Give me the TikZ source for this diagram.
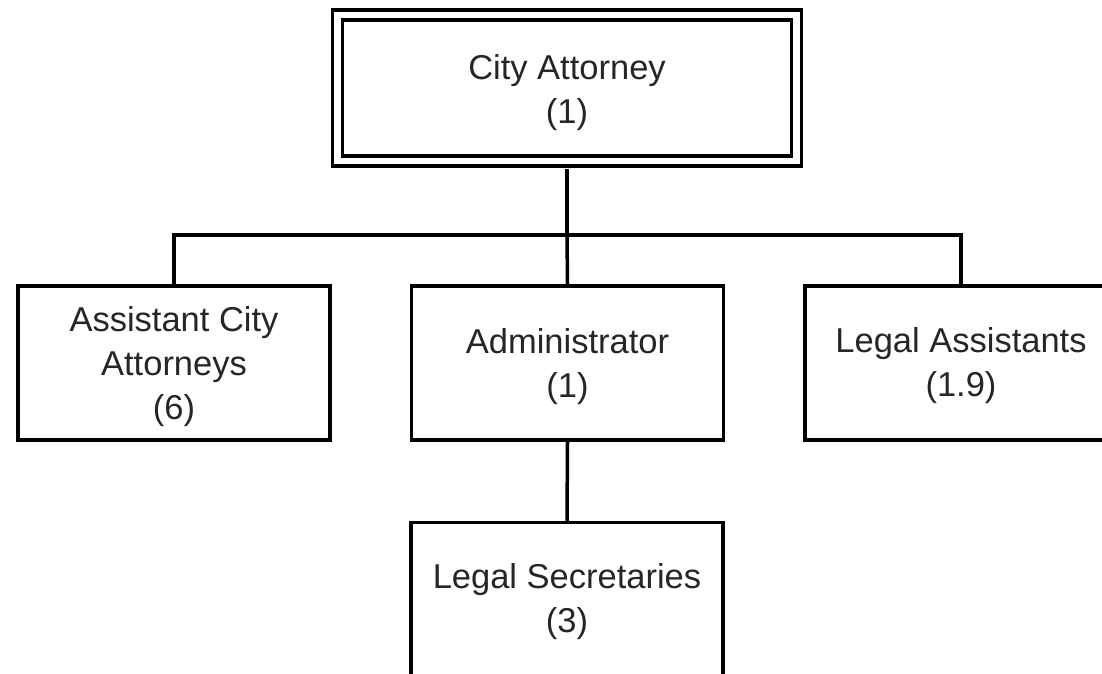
\documentclass[tikz,border=0pt]{standalone}
\usepackage{fontspec}
\setmainfont{Liberation Sans}
\newcommand\boxtext[2]{\raisebox{#1}[\height][\depth]{\parbox{300pt}{\centering #2}}}
\begin{document}
\begin{tikzpicture}[x=1pt,y=-1pt,
  box/.style={draw=black,line width=3.5pt,rectangle,minimum width=312pt,minimum height=154pt,
    inner sep=0pt,align=center,font=\fontsize{34.5}{44}\selectfont,text=black!85},
  topbox/.style={box,line width=3.3pt,double=white,double distance=6.5pt,minimum width=459pt,minimum height=146pt},
  link/.style={draw=black,line width=3.5pt}]
\clip (0,0) rectangle (1102,674);
\fill[white] (0,0) rectangle (1102,674);
\node[topbox] (ca) at (567,88) {\boxtext{-5pt}{City Attorney\\(1)}};
\node[box] (aca) at (174,363) {\boxtext{-4pt}{Assistant City\\Attorneys\\(6)}};
\node[box] (adm) at (567.5,363) {\boxtext{-4pt}{Administrator\\(1)}};
\node[box] (la) at (961,363) {\boxtext{-3pt}{Legal Assistants\\(1.9)}};
\node[box] (ls) at (567,599.5) {\boxtext{-2pt}{Legal Secretaries\\(3)}};
\coordinate (busL) at (174,235);
\coordinate (busR) at (961,235);
\draw[link,shorten <=6.5pt] (ca.south) -- (ca.south |- busL);
\draw[link,line cap=rect] (busL) -- (busR);
\draw[link] (busL) -- (aca.north);
\draw[link] (busR) -- (la.north);
\draw[link] (ca.south |- busL) -- (adm.north);
\draw[link] (adm.south) -- (ls.north);
\end{tikzpicture}
\end{document}
